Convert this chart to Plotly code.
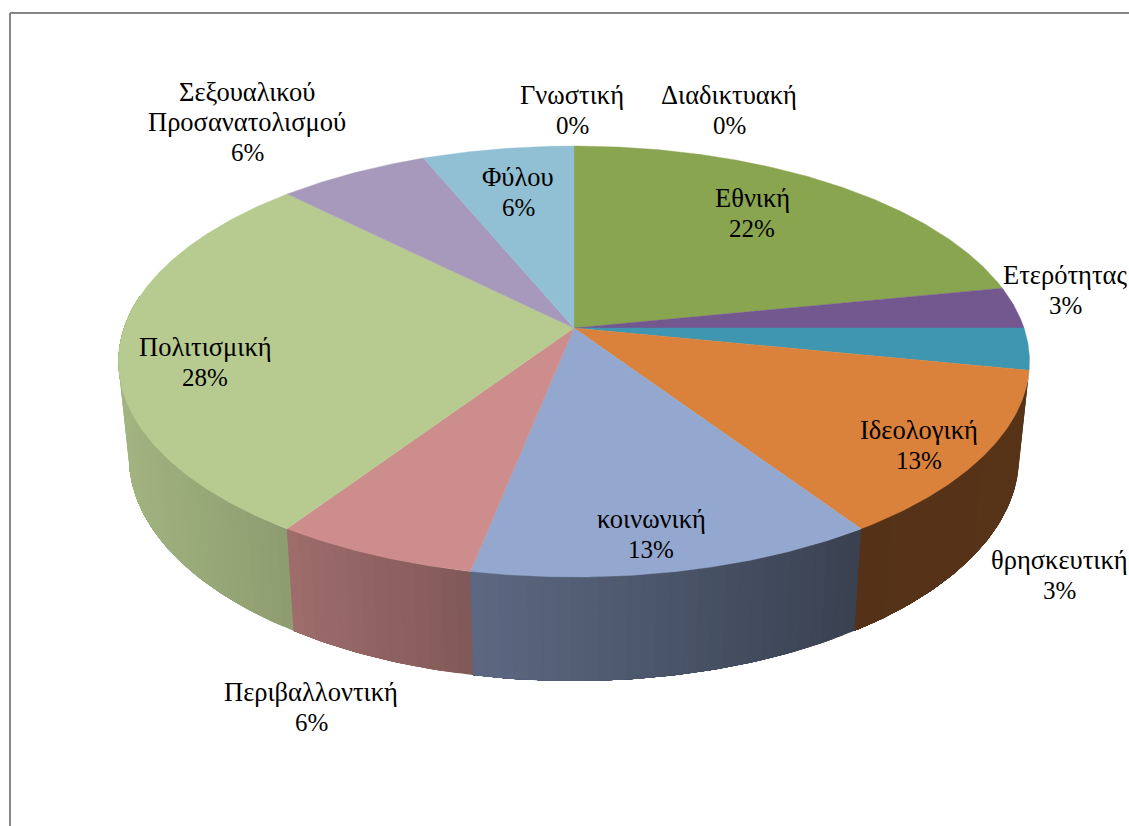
import numpy as np
import plotly.graph_objects as go

categories = ["Εθνική", "Ετερότητας", "θρησκευτική", "Ιδεολογική", "κοινωνική",
              "Περιβαλλοντική", "Πολιτισμική", "Σεξουαλικού<br>Προσανατολισμού",
              "Φύλου", "Γνωστική", "Διαδικτυακή"]
values = [7, 1, 1, 4, 4, 2, 9, 2, 2, 0, 0]

colors = ["#8aa550", "#72588f", "#3f96b0", "#da813c", "#93a7cf",
          "#cd8d8c", "#b7cb91", "#a699bc", "#91bfd3", "#ffffff", "#ffffff"]

# label centres, in page pixels
label_x = [752, 1065, 1059, 919, 651, 311, 205, 247, 518, 572, 729]
label_y = [213, 290, 575, 445, 534, 707, 362, 122, 192, 110, 110]

W, H = 1129, 826
CX, CY = 574.0, 328.0     # pie apex on the top face
A, B, K = 450.0, 210.3, 0.1555   # perspective projection of the disc
DROP, SU, SV = 94.0, 0.977, 1.04  # bottom face relative to the top face
LINE_GAP = 30.5


def top(t):
    d = 1 + K * np.cos(t)
    return CX + A * np.sin(t) / d, CY - B * np.cos(t) / d


def bottom(t):
    d = 1 + K * np.cos(t)
    return CX + SU * A * np.sin(t) / d, CY + DROP - SV * B * np.cos(t) / d


def rgb(hex_color, f=1.0):
    c = [int(hex_color[i:i + 2], 16) for i in (1, 3, 5)]
    return "rgb(%d,%d,%d)" % tuple(round(v * f) for v in c)


def shade(x):
    return float(np.interp(x, [125, 287, 471, 854, 1030], [0.89, 0.775, 0.63, 0.39, 0.40]))


total = sum(values)
edges = np.cumsum([0] + values) / total * 2 * np.pi
fig = go.Figure()

# side wall: each strip runs under the next one, so no seams show
LAST_WALL = np.radians(279)
for i in range(3, len(values)):
    a0, a1 = edges[i], min(edges[i + 1], LAST_WALL)
    if a1 <= a0:
        continue
    n = max(2, int((a1 - a0) / np.radians(1.5)))
    ts = np.linspace(a0, a1, n + 1)
    for k, t0 in enumerate(ts[:-1]):
        t_end = ts[-1]
        arc = np.linspace(t0, t_end, 2 + (n - k) * 2)
        xt, yt = top(arc)
        xb, yb = bottom(arc)
        col = rgb(colors[i], shade((xb[0] + bottom(ts[k + 1])[0]) / 2))
        fig.add_trace(go.Scatter(x=np.r_[xt, xb[::-1], xt[0]], y=np.r_[yt, yb[::-1], yt[0]],
                                 mode="lines", fill="toself", fillcolor=col,
                                 line=dict(width=0), hoverinfo="skip"))

# top face
for i in range(len(values)):
    if values[i] == 0:
        continue
    ts = np.linspace(edges[i], edges[i + 1], max(4, int((edges[i + 1] - edges[i]) / np.radians(0.5))))
    xs, ys = top(ts)
    col = rgb(colors[i])
    fig.add_trace(go.Scatter(x=np.r_[CX, xs, CX], y=np.r_[CY, ys, CY],
                             mode="lines", fill="toself", fillcolor=col,
                             line=dict(color=col, width=0.4), hoverinfo="skip"))

annotations = []
for name, v, x, y in zip(categories, values, label_x, label_y):
    lines = name.split("<br>") + ["%d%%" % int(100 * v / total + 0.5)]
    y0 = y - LINE_GAP * (len(lines) - 1) / 2
    for j, line in enumerate(lines):
        is_pct = j == len(lines) - 1
        annotations.append(dict(x=x, y=y0 + j * LINE_GAP, xref="x", yref="y", showarrow=False,
                                text=line, align="center",
                                font=dict(family="Liberation Serif", size=25 if is_pct else 26.5,
                                          color="#000000")))

shapes = [
    dict(type="line", x0=10, x1=W, y0=13, y1=13, line=dict(color="#868686", width=2)),
    dict(type="line", x0=10, x1=10, y0=13, y1=H, line=dict(color="#868686", width=2)),
]

fig.update_layout(
    width=W, height=H, margin=dict(l=0, r=0, t=0, b=0), showlegend=False,
    paper_bgcolor="#ffffff", plot_bgcolor="#ffffff",
    xaxis=dict(range=[0, W], visible=False, fixedrange=True),
    yaxis=dict(range=[H, 0], visible=False, fixedrange=True),
    annotations=annotations, shapes=shapes,
)
fig.write_html("out.html", post_script="document.body.style.margin='0';document.body.style.overflow='hidden';",
               config={"displayModeBar": False})
